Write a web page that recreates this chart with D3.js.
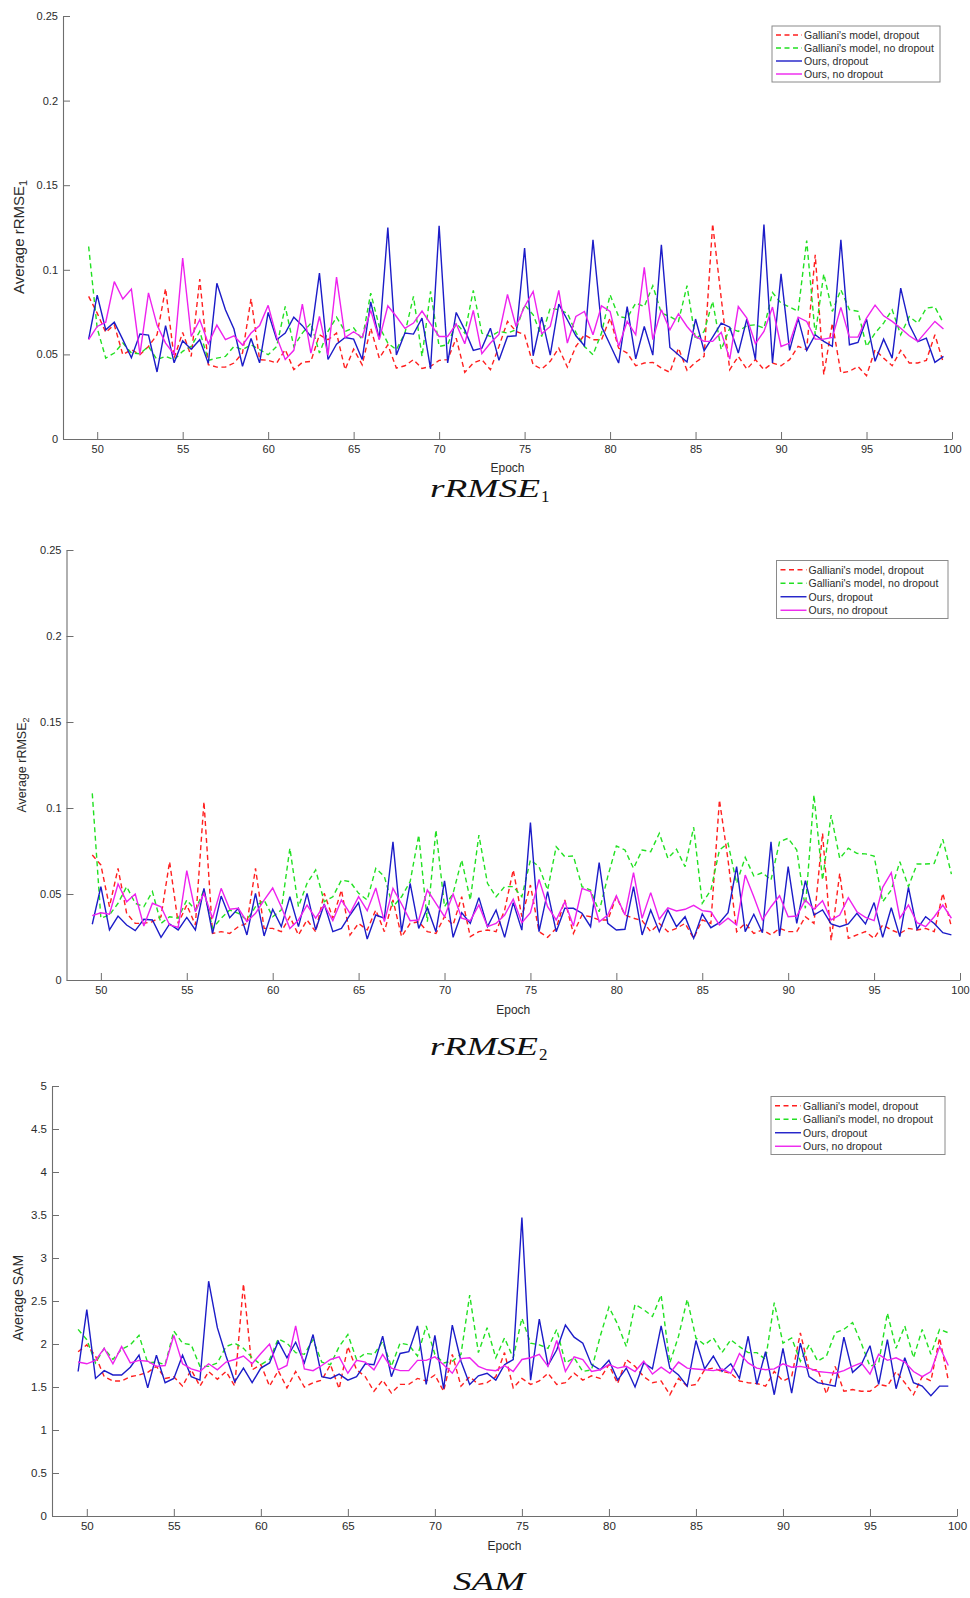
<!DOCTYPE html>
<html><head><meta charset="utf-8">
<script src="https://cdn.jsdelivr.net/npm/d3@7"></script>
<style>body{margin:0;background:#fff} svg{display:block}</style>
</head><body>
<svg id="c" width="970" height="1598"></svg>
<script>
// ---------------- DATA ----------------
const epochs = [49.5,50,50.5,51,51.5,52,52.5,53,53.5,54,54.5,55,55.5,56,56.5,57,57.5,58,58.5,59,59.5,60,60.5,61,61.5,62,62.5,63,63.5,64,64.5,65,65.5,66,66.5,67,67.5,68,68.5,69,69.5,70,70.5,71,71.5,72,72.5,73,73.5,74,74.5,75,75.5,76,76.5,77,77.5,78,78.5,79,79.5,80,80.5,81,81.5,82,82.5,83,83.5,84,84.5,85,85.5,86,86.5,87,87.5,88,88.5,89,89.5,90,90.5,91,91.5,92,92.5,93,93.5,94,94.5,95,95.5,96,96.5,97,97.5,98,98.5,99,99.5];
const seriesNames = ["Galliani's model, dropout", "Galliani's model, no dropout", "Ours, dropout", "Ours, no dropout"];
const xTickValues = [50,55,60,65,70,75,80,85,90,95,100];
const rmseTickValues = [0,0.05,0.1,0.15,0.2,0.25];
const samTickValues = [0,0.5,1,1.5,2,2.5,3,3.5,4,4.5,5];

// rRMSE1
const rmse1GallianiDrop = [.0843,.0744,.063,.0675,.0498,.0528,.0498,.0547,.0616,.089, .0478,.063,.0488,.0945,.0439,.0425,.0425,.0449,.0508,.083, .0469,.0465,.0449,.0528,.041,.0453,.0459,.0616,.0587,.0626, .041,.0531,.0439,.0655,.0478,.0557,.0419,.0433,.0469,.0417, .0429,.0465,.0469,.0596,.0394,.0449,.0469,.041,.0547,.0695, .0636,.0616,.0439,.0413,.0459,.0537,.0425,.0547,.0616,.0587, .0587,.0715,.0537,.0508,.0433,.0449,.0453,.0419,.0394,.0537, .0406,.0453,.0488,.1272,.0833,.041,.0488,.0413,.0469,.041, .0449,.0433,.0469,.0547,.0528,.1089,.038,.0685,.039,.040, .0429,.0374,.0528,.0478,.0433,.0524,.0449,.0449,.0465,.0616, .0449];
const rmse1GallianiNoDrop = [.1138,.0655,.0478,.0508,.0567,.0508,.0504,.0547,.0469,.0488, .0469,.0518,.0547,.0636,.0465,.0478,.0488,.0547,.0528,.0557, .0528,.0498,.0547,.0783,.0547,.0626,.0685,.0508,.0636,.072, .0636,.0657,.0587,.0862,.0665,.0567,.0528,.0626,.0843,.0488, .0872,.0547,.0557,.0685,.0626,.0878,.0626,.0606,.0636,.0626, .0645,.0793,.0734,.0606,.0774,.0764,.0744,.063,.0547,.0498, .0626,.0852,.0724,.0715,.0803,.0783,.0906,.0744,.0724,.0695, .0906,.0587,.0636,.0813,.0528,.0655,.0636,.067,.0675,.0655, .0866,.0803,.078,.0754,.1173,.0616,.0976,.0754,.0882,.0764, .0754,.0547,.0626,.0685,.0764,.0616,.0724,.0685,.0774,.078, .0685];
const rmse1OursDrop = [.059,.085,.0645,.069,.0587,.048,.062,.0614,.0396,.067, .045,.058,.053,.0587,.0447,.092,.0764,.065,.043,.0594, .045,.0748,.0587,.0626,.072,.067,.0606,.098,.047,.056, .06,.059,.047,.081,.059,.125,.0496,.0626,.062,.0715, .0415,.126,.045,.0748,.0645,.0524,.0537,.0655,.0465,.0606, .061,.1128,.0492,.072,.0496,.0797,.0705,.061,.0551,.1177, .0665,.0557,.0449,.0783,.0474,.0665,.0496,.1148,.0541,.0498, .0455,.0709,.0522,.0602,.0685,.0661,.0508,.0709,.0469,.1268, .0449,.0976,.0524,.0713,.0524,.0616,.0577,.0547,.1177,.0557, .0571,.0709,.0459,.059,.0478,.0892,.0675,.0575,.0596,.0453, .0488];
const rmse1OursNoDrop = [.0587,.0665,.069,.093,.0827,.0886,.050,.0864,.0673,.0567, .050,.107,.0606,.0705,.0563,.0673,.0587,.061,.0555,.0626, .067,.079,.0602,.047,.0524,.0797,.0508,.0724,.0496,.0957, .060,.0634,.060,.076,.0587,.0787,.0724,.0654,.0685,.0756, .068,.0606,.0606,.068,.0563,.076,.0504,.0567,.0618,.0854, .0665,.0783,.0872,.0622,.0665,.0878,.0567,.0724,.0754,.0616, .0787,.0754,.0547,.0695,.0616,.1014,.0587,.0764,.0645,.074, .0665,.0606,.0577,.0577,.063,.0472,.0783,.0715,.0563,.0636, .078,.0547,.0567,.072,.0695,.059,.059,.060,.0778,.0602, .0602,.0715,.0791,.0728,.0695,.0655,.061,.0577,.0636,.0695, .065];

// rRMSE2
const rmse2GallianiDrop = [.0727,.0669,.0426,.0649,.0388,.0329,.0329,.0339,.0368,.0688, .0329,.0436,.032,.1037,.0271,.0281,.0271,.031,.0329,.0649, .030,.030,.0281,.0368,.0262,.0349,.0281,.0504,.0359,.0523, .0262,.0329,.0291,.0407,.0281,.0465,.0252,.0329,.0339,.0281, .0271,.0368,.032,.0484,.0252,.0281,.0291,.0281,.0407,.064, .0368,.0552,.0281,.0248,.030,.0465,.0271,.0378,.0368,.0349, .0349,.0484,.0378,.0359,.0345,.0281,.0329,.0281,.030,.0329, .0242,.0349,.0329,.1047,.0698,.0281,.0329,.0271,.0291,.0262, .030,.0281,.0281,.0368,.0329,.0853,.0229,.062,.0242,.0262, .0281,.0242,.032,.0291,.0271,.030,.0291,.030,.0281,.0504, .031];
const rmse2GallianiNoDrop = [.1085,.0359,.0378,.0446,.0543,.0446,.0426,.0514,.0329,.0368, .0359,.0465,.0407,.0523,.030,.0359,.0407,.0388,.0349,.0426, .0465,.0368,.0407,.0766,.0426,.0562,.064,.0455,.0484,.0581, .0572,.0504,.0465,.0649,.0601,.0426,.0484,.0572,.0843,.0339, .0872,.0426,.0504,.0698,.0465,.0843,.0562,.0484,.0543,.0543, .0484,.0698,.0659,.0523,.0775,.0717,.0721,.0543,.0523,.0397, .0601,.0779,.0756,.0649,.0756,.0746,.0853,.0707,.076,.0659, .0888,.0446,.0523,.0756,.0795,.0562,.0713,.0605,.0624,.0581, .0804,.0824,.0756,.0417,.1076,.0581,.0959,.0707,.0766,.0736, .0733,.0721,.0455,.0523,.0688,.0543,.0674,.0674,.0678,.0818, .0616];
const rmse2OursDrop = [.0324,.0543,.0291,.0372,.032,.0287,.0353,.0349,.0248,.0326, .0291,.0364,.0291,.0533,.0271,.0488,.0362,.0417,.0262,.0504, .0256,.0411,.031,.0484,.031,.0504,.0291,.0442,.0281,.030, .0378,.045,.0238,.0378,.0359,.0804,.0281,.0562,.030,.042, .0281,.0576,.0248,.0391,.0329,.0479,.031,.0407,.0248,.045, .029,.0915,.0281,.0514,.0281,.0417,.0417,.0388,.031,.0682, .0329,.0291,.0295,.0543,.0262,.0407,.0281,.0407,.031,.0368, .0242,.0384,.0304,.0333,.0391,.0659,.0281,.0382,.0275,.0804, .0256,.0659,.0329,.0578,.0378,.0407,.0326,.031,.0326,.0388, .0326,.045,.0248,.042,.0252,.0539,.0295,.0368,.0329,.0275, .0262];
const rmse2OursNoDrop = [.0374,.0391,.0382,.0558,.0455,.050,.0314,.0446,.0426,.032, .0306,.0636,.0397,.0504,.0359,.0533,.0411,.0417,.0339,.0388, .0465,.0535,.0426,.030,.0349,.0436,.0359,.0436,.0345,.0465, .0388,.0484,.0403,.0535,.0339,.0533,.0442,.0345,.0349,.0523, .0446,.0368,.050,.0359,.0345,.0436,.031,.0329,.0378,.047, .0333,.0391,.0585,.0426,.0349,.0455,.0314,.0533,.0514,.0339, .0378,.049,.0378,.0624,.0359,.0508,.0353,.042,.0401,.0411, .0434,.0403,.0397,.032,.0359,.032,.061,.0484,.0349,.0426, .049,.0368,.0372,.0465,.0411,.0461,.0349,.0378,.0479,.0397, .0364,.0345,.0539,.0624,.0359,.0436,.0333,.031,.0368,.0436, .0359];

// SAM
const samGallianiDrop = [1.91,1.99,1.86,1.62,1.57,1.57,1.62,1.64,1.67,1.74, 1.60,1.62,1.51,1.70,1.51,1.68,1.59,1.68,1.51,2.70, 1.70,1.76,1.51,1.69,1.49,1.68,1.50,1.55,1.58,1.76, 1.48,1.97,1.70,1.62,1.45,1.58,1.43,1.53,1.53,1.60, 1.57,1.64,1.45,1.88,1.51,1.62,1.53,1.55,1.62,1.90, 1.49,1.60,1.53,1.57,1.66,1.53,1.55,1.66,1.58,1.63, 1.60,1.76,1.54,1.82,1.74,1.62,1.55,1.57,1.41,1.60, 1.51,1.53,1.70,1.72,1.68,1.66,1.57,1.55,1.54,1.51, 1.68,1.57,1.62,2.13,1.70,1.70,1.42,1.74,1.45,1.47, 1.45,1.45,1.53,1.51,1.68,1.55,1.41,1.62,1.57,2.07, 1.58];
const samGallianiNoDrop = [2.17,2.05,1.78,1.95,1.82,1.94,1.99,2.10,1.78,1.79, 1.76,2.15,2.01,1.99,1.74,1.74,1.78,1.97,2.01,1.95, 1.84,1.76,1.82,2.06,2.01,1.90,1.88,2.05,1.79,1.76, 1.97,2.11,1.82,1.89,1.88,2.03,1.74,2.01,1.99,1.86, 2.21,1.88,1.78,1.80,1.88,2.57,1.90,2.19,1.84,2.07, 1.84,2.30,2.01,1.99,1.95,2.17,1.78,1.84,1.68,1.70, 2.09,2.43,2.23,1.97,2.46,2.40,2.32,2.57,1.78,2.09, 2.52,2.07,1.99,2.07,1.90,2.05,1.97,1.90,1.90,1.82, 2.48,2.01,2.07,1.80,1.99,1.80,1.86,2.13,2.17,2.25, 2.01,1.74,1.78,2.36,1.95,2.21,1.84,2.17,1.88,2.17, 2.13];
const samOursDrop = [1.68,2.40,1.60,1.69,1.64,1.64,1.73,1.87,1.49,1.87, 1.55,1.60,1.87,1.62,1.58,2.73,2.19,1.86,1.56,1.72, 1.55,1.72,1.78,2.03,1.84,2.02,1.78,2.11,1.62,1.60, 1.65,1.58,1.62,1.77,1.76,2.09,1.62,1.89,1.91,2.21, 1.53,2.10,1.48,2.22,1.80,1.53,1.63,1.66,1.58,1.76, 1.82,3.47,1.58,2.29,1.75,1.93,2.22,2.08,2.01,1.76, 1.70,1.81,1.58,1.72,1.50,1.78,1.71,2.21,1.72,1.64, 1.51,2.04,1.71,1.86,1.68,1.77,1.60,2.09,1.53,1.91, 1.41,1.95,1.43,2.01,1.62,1.55,1.53,1.51,2.08,1.67, 1.76,1.98,1.53,2.05,1.48,1.84,1.55,1.51,1.40,1.51, 1.51];
const samOursNoDrop = [1.79,1.77,1.81,1.95,1.77,1.97,1.78,1.81,1.80,1.74, 1.75,2.10,1.77,1.71,1.68,1.77,1.70,1.79,1.82,1.86, 1.77,1.89,2.00,1.70,1.75,2.21,1.71,1.69,1.75,1.82, 1.85,1.66,1.81,1.79,1.70,1.88,1.72,1.69,1.69,1.81, 1.81,1.85,1.76,1.66,1.83,1.84,1.74,1.70,1.69,1.75, 1.68,1.82,1.84,1.88,1.74,2.04,1.68,1.85,1.82,1.68, 1.70,1.76,1.72,1.74,1.68,1.80,1.65,1.73,1.66,1.79, 1.72,1.71,1.70,1.69,1.71,1.66,1.89,1.78,1.72,1.70, 1.71,1.77,1.73,1.74,1.72,1.68,1.67,1.66,1.69,1.74, 1.78,1.65,1.88,1.81,1.84,1.79,1.68,1.62,1.68,1.97, 1.75];

// ---------------- STYLE / LAYOUT ----------------
const seriesStyle = [
  {color:"#ff1f1f", dash:"5,3.5"},
  {color:"#22e022", dash:"5,3.5"},
  {color:"#1c1cc8", dash:null},
  {color:"#ee22ee", dash:null}
];
const panels = [
  {series:[rmse1GallianiDrop,rmse1GallianiNoDrop,rmse1OursDrop,rmse1OursNoDrop], ticks:rmseTickValues, yMax:0.25,
   L:63, R:952, T:16, B:439, ylab:"Average rRMSE", ysub:"1", ylabX:18, ylabY:237, ylabFs:15, tickFs:11,
   title:"rRMSE", tsub:"1", titleX:430, titleW:110, titleY:497, epochY:471.5, legend:{x:772,y:26,w:168,h:56}},
  {series:[rmse2GallianiDrop,rmse2GallianiNoDrop,rmse2OursDrop,rmse2OursNoDrop], ticks:rmseTickValues, yMax:0.25,
   L:66.5, R:960, T:550, B:980, ylab:"Average rRMSE", ysub:"2", ylabX:22, ylabY:765, ylabFs:12.5, tickFs:11,
   title:"rRMSE", tsub:"2", titleX:430, titleW:108, titleY:1055, epochY:1014, legend:{x:776.5,y:560.5,w:171.5,h:58}},
  {series:[samGallianiDrop,samGallianiNoDrop,samOursDrop,samOursNoDrop], ticks:samTickValues, yMax:5,
   L:52, R:957, T:1086, B:1516, ylab:"Average SAM", ysub:"", ylabX:18, ylabY:1298, ylabFs:14, tickFs:11.5,
   title:"SAM", tsub:"", titleX:453, titleW:72, titleY:1590, epochY:1550, legend:{x:771,y:1096.5,w:174,h:58}}
];

const svg = d3.select("#c");
const FONT = "'Liberation Sans', Arial, Helvetica, sans-serif";
const SERIF = "'Liberation Serif','Times New Roman',serif";
const AX = "#6e6e6e", TX = "#2b2b2b";

panels.forEach(p => {
  const x = d3.scaleLinear().domain([48,100]).range([p.L, p.R]);
  const y = d3.scaleLinear().domain([0,p.yMax]).range([p.B, p.T]);
  const g = svg.append("g");

  // axes
  const xa = g.append("g").attr("transform",`translate(0,${p.B})`)
    .call(d3.axisBottom(x).tickValues(xTickValues).tickSizeInner(-7).tickSizeOuter(0).tickPadding(6).tickFormat(d=>String(d)));
  const ya = g.append("g").attr("transform",`translate(${p.L},0)`)
    .call(d3.axisLeft(y).tickValues(p.ticks).tickSizeInner(-7).tickSizeOuter(0).tickPadding(5).tickFormat(d=>String(+d.toFixed(2))));
  [xa,ya].forEach(a=>{
    a.select(".domain").attr("stroke",AX).attr("stroke-width",1.1);
    a.selectAll(".tick line").attr("stroke",AX).attr("stroke-width",1);
    a.selectAll(".tick text").attr("fill",TX).style("font-family",FONT).style("font-size",p.tickFs+"px");
  });

  // lines
  const line = d3.line().x((d,i)=>x(epochs[i])).y(d=>y(d));
  p.series.forEach((s,k)=>{
    g.append("path").datum(s).attr("d",line).attr("fill","none")
      .attr("stroke",seriesStyle[k].color).attr("stroke-width",1.4)
      .attr("stroke-linejoin","miter").attr("stroke-miterlimit",3)
      .attr("stroke-dasharray",seriesStyle[k].dash);
  });

  // x label
  g.append("text").attr("x",(p.L+p.R)/2).attr("y",p.epochY).attr("text-anchor","middle")
    .attr("fill",TX).style("font-family",FONT).style("font-size","12px").text("Epoch");

  // y label
  const yl = g.append("text").attr("transform",`translate(${p.ylabX},${p.ylabY}) rotate(-90)`)
    .attr("text-anchor","middle").attr("dominant-baseline","central")
    .attr("fill",TX).style("font-family",FONT).style("font-size",p.ylabFs+"px");
  yl.append("tspan").text(p.ylab);
  if (p.ysub) yl.append("tspan").attr("dy",p.ylabFs*0.32).style("font-size",(p.ylabFs*0.72)+"px").text(p.ysub);

  // title (math style)
  g.append("text").attr("x",p.titleX).attr("y",p.titleY)
    .attr("textLength",p.titleW).attr("lengthAdjust","spacingAndGlyphs")
    .attr("fill","#111").style("font-family",SERIF)
    .style("font-style","italic").style("font-size","25px").text(p.title);
  if (p.tsub) g.append("text").attr("x",p.titleX+p.titleW+1).attr("y",p.titleY+5)
    .attr("fill","#111").style("font-family",SERIF)
    .style("font-size","17px").text(p.tsub);

  // legend
  const lg = g.append("g").attr("transform",`translate(${p.legend.x},${p.legend.y})`);
  lg.append("rect").attr("width",p.legend.w).attr("height",p.legend.h)
    .attr("fill","#fff").attr("stroke","#8a8a8a").attr("stroke-width",1);
  const step = (p.legend.h-4)/4;
  seriesNames.forEach((n,k)=>{
    const yy = 2 + step*(k+0.5) + 0.5;
    lg.append("line").attr("x1",4).attr("x2",30).attr("y1",yy).attr("y2",yy)
      .attr("stroke",seriesStyle[k].color).attr("stroke-width",1.4)
      .attr("stroke-dasharray",seriesStyle[k].dash);
    lg.append("text").attr("x",32).attr("y",yy).attr("dominant-baseline","central")
      .attr("fill",TX).style("font-family",FONT).style("font-size","10.5px").text(n);
  });
});
</script>
</body></html>
